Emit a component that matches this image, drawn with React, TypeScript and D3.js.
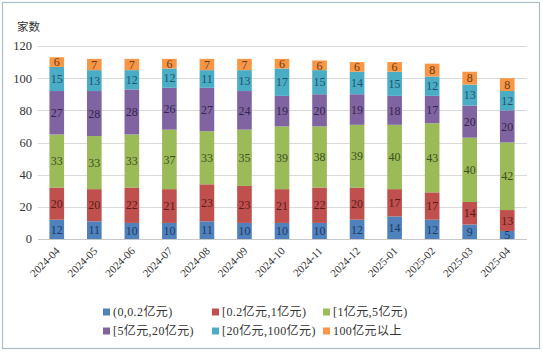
import { useRef, useEffect } from "react";
import * as d3 from "d3";

const months = ["2024-04", "2024-05", "2024-06", "2024-07", "2024-08", "2024-09", "2024-10", "2024-11", "2024-12", "2025-01", "2025-02", "2025-03", "2025-04"];
const seriesNames = ["(0,0.2亿元)", "[0.2亿元,1亿元)", "[1亿元,5亿元)", "[5亿元,20亿元)", "[20亿元,100亿元)", "100亿元以上"];
const s1 = [12, 11, 10, 10, 11, 10, 10, 10, 12, 14, 12, 9, 5];
const s2 = [20, 20, 22, 21, 23, 23, 21, 22, 20, 17, 17, 14, 13];
const s3 = [33, 33, 33, 37, 33, 35, 39, 38, 39, 40, 43, 40, 42];
const s4 = [27, 28, 28, 26, 27, 24, 19, 20, 19, 18, 17, 20, 20];
const s5 = [15, 13, 12, 12, 11, 13, 17, 15, 14, 15, 12, 13, 12];
const s6 = [6, 7, 7, 6, 7, 7, 6, 6, 6, 6, 8, 8, 8];
const yTicks = [0, 20, 40, 60, 80, 100, 120];

const fills = ["#4F81BD", "#C0504D", "#9BBB59", "#8064A2", "#4BACC6", "#F79646"];
const labelColors = ["#1F3A60", "#5A1B19", "#3E4F1E", "#33264A", "#1D5566", "#6E3A0E"];
const font = "'Liberation Serif', 'Noto Sans CJK SC', serif";

export default function App() {
  const svgRef = useRef<SVGSVGElement>(null);

  useEffect(() => {
    if (!svgRef.current) return;
    const svg = d3.select(svgRef.current);
    svg.selectAll("*").remove();

    const W = 543, H = 352;
    const series = [s1, s2, s3, s4, s5, s6];
    const rows = months.map((m, i) => {
      const r: Record<string, number | string> = { month: m };
      series.forEach((s, k) => { r["k" + k] = s[i]; });
      return r;
    });
    const keys = series.map((_, k) => "k" + k);
    const stacked = d3.stack<Record<string, number | string>>().keys(keys)(rows);

    const x = d3.scaleBand().domain(months).range([38, 526]).paddingInner(0.61).paddingOuter(0.305);
    const y = d3.scaleLinear().domain([0, 120]).range([239, 46]);

    svg.append("rect").attr("x", 0).attr("y", 0).attr("width", W).attr("height", H).attr("fill", "#fff");
    svg.append("rect").attr("x", 2.5).attr("y", 2.5).attr("width", 537).attr("height", 346)
      .attr("fill", "none").attr("stroke", "#A9BCC8").attr("stroke-width", 1.2);

    // grid
    svg.append("g").selectAll("line").data(yTicks).enter().append("line")
      .attr("x1", 38).attr("x2", 527)
      .attr("y1", d => Math.round(y(d)) + 0.5).attr("y2", d => Math.round(y(d)) + 0.5)
      .attr("stroke", d => d === 0 ? "#C8C8C8" : "#DADADA").attr("stroke-width", 1);

    svg.append("g").selectAll("text").data(yTicks).enter().append("text")
      .attr("x", 32).attr("y", d => y(d)).attr("dy", "0.35em")
      .attr("text-anchor", "end").attr("font-family", font).attr("font-size", 12.5).attr("fill", "#333")
      .text(d => d);

    svg.append("text").attr("x", 17).attr("y", 31).attr("font-family", font).attr("font-size", 11.5)
      .attr("fill", "#333").text("家数");

    // bars
    stacked.forEach((layer, k) => {
      const g = svg.append("g");
      g.selectAll("rect").data(layer).enter().append("rect")
        .attr("x", d => x(d.data.month as string)!)
        .attr("width", x.bandwidth())
        .attr("y", d => y(d[1]))
        .attr("height", d => y(d[0]) - y(d[1]))
        .attr("fill", fills[k]);
      g.selectAll("text").data(layer).enter().append("text")
        .attr("x", d => x(d.data.month as string)! + x.bandwidth() / 2)
        .attr("y", d => (y(d[0]) + y(d[1])) / 2).attr("dy", "0.35em")
        .attr("text-anchor", "middle").attr("font-family", font).attr("font-size", 12)
        .attr("fill", labelColors[k])
        .text(d => d[1] - d[0]);
    });

    // x labels
    svg.append("g").selectAll("text").data(months).enter().append("text")
      .attr("transform", d => `translate(${x(d)! + x.bandwidth() / 2 + 1},${249}) rotate(-45)`)
      .attr("text-anchor", "end").attr("dy", "0.35em")
      .attr("font-family", font).attr("font-size", 11).attr("fill", "#333")
      .text(d => d);

    // legend
    const legX = [103, 212, 323];
    const legY = [312, 331];
    seriesNames.forEach((name, k) => {
      const lx = legX[k % 3], ly = legY[Math.floor(k / 3)];
      svg.append("rect").attr("x", lx).attr("y", ly - 3.5).attr("width", 7).attr("height", 7).attr("fill", fills[k]);
      svg.append("text").attr("x", lx + 10).attr("y", ly).attr("dy", "0.35em")
        .attr("font-family", font).attr("font-size", 12).attr("letter-spacing", 0.4)
        .attr("fill", "#333").text(name);
    });
  }, []);

  return <svg ref={svgRef} width={543} height={352} style={{ position: "absolute", left: 0, top: 0 }} />;
}
